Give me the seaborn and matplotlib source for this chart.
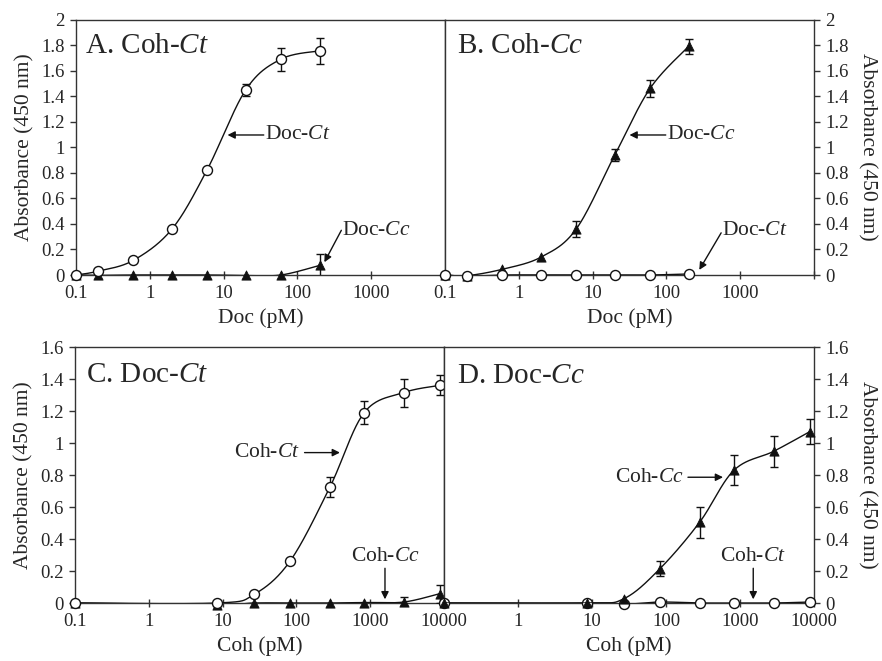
import numpy as np
import pandas as pd
import seaborn as sns
import matplotlib
matplotlib.use("Agg")
import matplotlib.pyplot as plt

# ---------------- data ----------------
doc_x = [0.1, 0.2, 0.6, 2, 6, 20, 60, 200]            # Doc (pM), top panels
coh_x = [0.1, 8.5, 27, 83, 285, 830, 2850, 8700]      # Coh (pM), bottom panels

# Panel A: Coh-Ct coated
a_docct = [0.0, 0.03, 0.115, 0.36, 0.825, 1.45, 1.69, 1.755]
a_docct_err = [0, 0, 0, 0, 0, 0.045, 0.09, 0.10]
a_doccc = [0.0, -0.003, 0.0, 0.0, 0.0, -0.003, 0.0, 0.075]
a_doccc_err = [0, 0, 0, 0, 0, 0, 0, 0.09]

# Panel B: Coh-Cc coated
b_doccc = [0.0, -0.005, 0.045, 0.14, 0.36, 0.94, 1.46, 1.79]
b_doccc_err = [0, 0, 0, 0, 0.06, 0.05, 0.065, 0.06]
b_docct = [0.0, -0.01, 0.0, 0.0, 0.0, 0.0, 0.0, 0.008]
b_docct_err = [0, 0, 0, 0, 0, 0, 0, 0]

# Panel C: Doc-Ct coated
c_cohct = [0.0, 0.0, 0.055, 0.265, 0.725, 1.19, 1.315, 1.36]
c_cohct_err = [0, 0, 0, 0, 0.065, 0.07, 0.087, 0.062]
c_cohcc = [0.0, -0.01, 0.0, 0.0, 0.0, 0.003, 0.006, 0.058]
c_cohcc_err = [0, 0, 0, 0, 0, 0, 0.03, 0.055]

# Panel D: Doc-Cc coated
d_cohcc = [0.0, 0.0, 0.027, 0.215, 0.505, 0.83, 0.948, 1.07]
d_cohcc_err = [0, 0, 0, 0.048, 0.096, 0.094, 0.098, 0.077]
d_cohct = [0.0, 0.0, -0.008, 0.006, 0.0, 0.0, 0.0, 0.006]
d_cohct_err = [0, 0, 0, 0, 0, 0, 0, 0]

x_ticks = [0.1, 1, 10, 100, 1000, 10000]
top_xlabels = ["0.1", "1", "10", "100", "1000", ""]
c_xlabels = ["0.1", "1", "10", "100", "1000", "10000"]
d_xlabels = ["", "1", "10", "100", "1000", "10000"]
top_yticks = [0, 0.2, 0.4, 0.6, 0.8, 1.0, 1.2, 1.4, 1.6, 1.8, 2.0]
top_ylabels = ["0", "0.2", "0.4", "0.6", "0.8", "1", "1.2", "1.4", "1.6", "1.8", "2"]
bot_yticks = [0, 0.2, 0.4, 0.6, 0.8, 1.0, 1.2, 1.4, 1.6]
bot_ylabels = ["0", "0.2", "0.4", "0.6", "0.8", "1", "1.2", "1.4", "1.6"]

# ---------------- style ----------------
sns.set_style("ticks")
plt.rcParams["font.family"] = ["Liberation Serif", "DejaVu Serif"]
plt.rcParams["mathtext.fontset"] = "custom"
plt.rcParams["mathtext.rm"] = "Liberation Serif"
plt.rcParams["mathtext.it"] = "Liberation Serif:italic"

SPINE = "#333333"
LC = "#111111"
TICK_FS = 13.5
LAB_FS = 15.5
TITLE_FS = 21
ANN_FS = 15.5

fig = plt.figure(figsize=(8.82, 6.61), dpi=100)
W, H = 882, 661


def add_ax(left, right, top, bottom):
    return fig.add_axes([left / W, 1 - bottom / H, (right - left) / W, (bottom - top) / H])


axA = add_ax(76, 445, 19.5, 275)
axB = add_ax(445, 814, 19.5, 275)
axC = add_ax(75, 444, 347, 603)
axD = add_ax(444, 814, 347, 603)


def smooth(x, y, n=40):
    lx = np.log10(np.asarray(x, float))
    yy = np.asarray(y, float)
    P = np.column_stack([lx, yy])
    P = np.vstack([P[0], P, P[-1]])
    out = []
    t = np.linspace(0, 1, n)[:, None]
    for i in range(1, len(P) - 2):
        p0, p1, p2, p3 = P[i - 1], P[i], P[i + 1], P[i + 2]
        seg = 0.5 * ((2 * p1) + (-p0 + p2) * t + (2 * p0 - 5 * p1 + 4 * p2 - p3) * t ** 2
                     + (-p0 + 3 * p1 - 3 * p2 + p3) * t ** 3)
        out.append(seg)
    S = np.vstack(out)
    return 10 ** S[:, 0], S[:, 1]


def series(ax, x, y, err, marker, filled, z):
    sx, sy = smooth(x, y)
    ax.plot(sx, sy, color=LC, lw=1.0, zorder=z, clip_on=True)
    df = pd.DataFrame({"x": x, "y": y, "e": err})
    de = df[df["e"] > 0]
    if len(de):
        ax.errorbar(de["x"], de["y"], yerr=de["e"], fmt="none", ecolor=LC,
                    elinewidth=1.0, capsize=3.2, capthick=1.0, zorder=z + 0.5)
    if filled:
        sns.scatterplot(data=df, x="x", y="y", ax=ax, marker="^", s=44,
                        color=LC, edgecolor=LC, linewidth=0.6, zorder=z + 1, clip_on=False)
    else:
        sns.scatterplot(data=df, x="x", y="y", ax=ax, marker="o", s=52,
                        facecolor="white", edgecolor=LC, linewidth=1.0, zorder=z + 1, clip_on=False)


def style_ax(ax, yticks, ylabels, xlabels, ymax, side, xlabel):
    ax.set_xscale("log")
    ax.set_xlim(0.1, 10000)
    ax.set_ylim(0, ymax)
    ax.set_xticks(x_ticks)
    ax.set_xticklabels(xlabels, fontsize=TICK_FS)
    ax.xaxis.set_minor_locator(matplotlib.ticker.NullLocator())
    ax.set_yticks(yticks)
    ax.set_yticklabels(ylabels, fontsize=TICK_FS)
    for s in ax.spines.values():
        s.set_color(SPINE)
        s.set_linewidth(1.0)
        s.set_visible(True)
    ax.tick_params(axis="x", direction="inout", length=6, width=1.0, color=SPINE, pad=4)
    if side == "left":
        ax.tick_params(axis="y", direction="out", length=4, width=1.0, color=SPINE,
                       left=True, right=False, labelleft=True, labelright=False, pad=4)
        ax.set_ylabel("Absorbance (450 nm)", fontsize=LAB_FS, labelpad=5)
    else:
        ax.tick_params(axis="y", direction="out", length=4, width=1.0, color=SPINE,
                       left=False, right=True, labelleft=False, labelright=True, pad=4)
        ax.yaxis.set_label_position("right")
        ax.set_ylabel("Absorbance (450 nm)", fontsize=LAB_FS, rotation=270, labelpad=20)
    ax.set_xlabel(xlabel, fontsize=LAB_FS, labelpad=5)
    ax.set_facecolor("white")


def arrow(ax, head, tail):
    ax.annotate("", xy=head, xytext=tail,
                arrowprops=dict(arrowstyle="-|>", color=LC, lw=1.0,
                                mutation_scale=11, shrinkA=0, shrinkB=0))


# ---------------- panel A ----------------
series(axA, doc_x, a_doccc, a_doccc_err, "^", True, 3)
series(axA, doc_x, a_docct, a_docct_err, "o", False, 5)
style_ax(axA, top_yticks, top_ylabels, top_xlabels, 2.0, "left", "Doc (pM)")
axA.text(0.024, 0.896, r"A. Coh-$\mathit{Ct}$", transform=axA.transAxes,
         fontsize=TITLE_FS, ha="left", va="center")
arrow(axA, (11.3, 1.096), (35, 1.096))
axA.text(36, 1.096, r"Doc-$\mathit{Ct}$", fontsize=ANN_FS, ha="left", va="center")
arrow(axA, (232, 0.10), (394, 0.35))
axA.text(400, 0.35, r"Doc-$\mathit{Cc}$", fontsize=ANN_FS, ha="left", va="center")

# ---------------- panel B ----------------
series(axB, doc_x, b_doccc, b_doccc_err, "^", True, 3)
series(axB, doc_x, b_docct, b_docct_err, "o", False, 5)
style_ax(axB, top_yticks, top_ylabels, top_xlabels, 2.0, "right", "Doc (pM)")
axB.text(0.032, 0.896, r"B. Coh-$\mathit{Cc}$", transform=axB.transAxes,
         fontsize=TITLE_FS, ha="left", va="center")
arrow(axB, (31.6, 1.096), (98, 1.096))
axB.text(101, 1.096, r"Doc-$\mathit{Cc}$", fontsize=ANN_FS, ha="left", va="center")
arrow(axB, (279, 0.04), (552, 0.33))
axB.text(565, 0.35, r"Doc-$\mathit{Ct}$", fontsize=ANN_FS, ha="left", va="center")

# ---------------- panel C ----------------
series(axC, coh_x, c_cohcc, c_cohcc_err, "^", True, 3)
series(axC, coh_x, c_cohct, c_cohct_err, "o", False, 5)
style_ax(axC, bot_yticks, bot_ylabels, c_xlabels, 1.6, "left", "Coh (pM)")
axC.text(0.03, 0.89, r"C. Doc-$\mathit{Ct}$", transform=axC.transAxes,
         fontsize=TITLE_FS, ha="left", va="center")
arrow(axC, (389, 0.94), (129, 0.94))
axC.text(112, 0.94, r"Coh-$\mathit{Ct}$", fontsize=ANN_FS, ha="right", va="center")
arrow(axC, (1586, 0.023), (1586, 0.217))
axC.text(1586, 0.29, r"Coh-$\mathit{Cc}$", fontsize=ANN_FS, ha="center", va="center")

# ---------------- panel D ----------------
series(axD, coh_x, d_cohct, d_cohct_err, "o", False, 3)
series(axD, coh_x, d_cohcc, d_cohcc_err, "^", True, 5)
style_ax(axD, bot_yticks, bot_ylabels, d_xlabels, 1.6, "right", "Coh (pM)")
axD.text(0.035, 0.885, r"D. Doc-$\mathit{Cc}$", transform=axD.transAxes,
         fontsize=TITLE_FS, ha="left", va="center")
arrow(axD, (590, 0.786), (198, 0.786))
axD.text(172, 0.786, r"Coh-$\mathit{Cc}$", fontsize=ANN_FS, ha="right", va="center")
arrow(axD, (1510, 0.023), (1510, 0.217))
axD.text(1510, 0.29, r"Coh-$\mathit{Ct}$", fontsize=ANN_FS, ha="center", va="center")

fig.savefig("out.png", dpi=100, facecolor="white")
